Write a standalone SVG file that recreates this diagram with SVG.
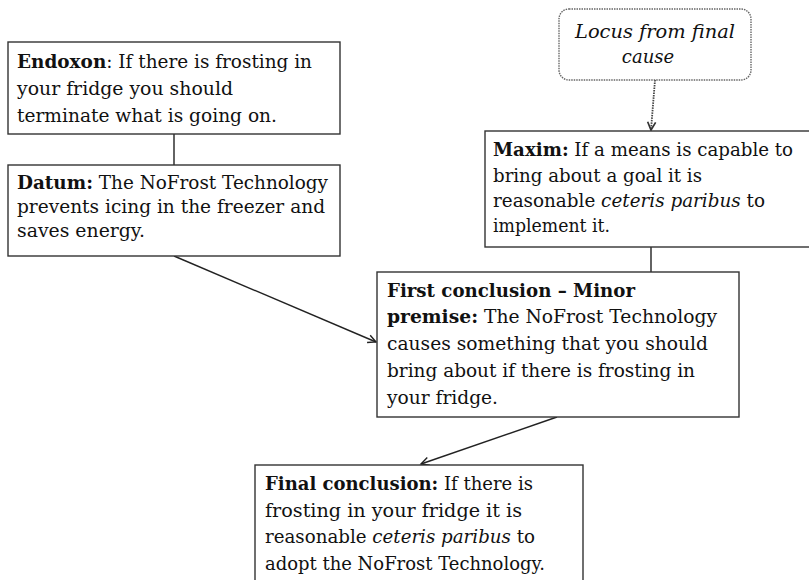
<svg xmlns="http://www.w3.org/2000/svg" width="809" height="580" viewBox="0 0 809 580">
<style>
.box{fill:#fff;stroke:#333;stroke-width:1.4}
.dot{fill:#fff;stroke:#666;stroke-width:1.4;stroke-dasharray:1.5 1}
.t{font-family:"DejaVu Serif","Liberation Serif",serif;font-size:18px;fill:#111}
.b{font-weight:bold}
.i{font-style:italic}
.ln{fill:none;stroke:#222;stroke-width:1.4}
.dl{fill:none;stroke:#444;stroke-width:1.8;stroke-dasharray:1.5 1}
</style>
<defs>
<marker id="arr" markerWidth="12" markerHeight="12" refX="9" refY="5" orient="auto" markerUnits="userSpaceOnUse">
<path d="M1,1 L9,5 L1,9" fill="none" stroke="#222" stroke-width="1.4"/>
</marker>
<marker id="arrd" markerWidth="12" markerHeight="12" refX="9" refY="5" orient="auto" markerUnits="userSpaceOnUse">
<path d="M1,1 L9,5 L1,9" fill="none" stroke="#333" stroke-width="1.7"/>
</marker>
</defs>
<g id="connectors">
<line class="ln" x1="174" y1="134" x2="174" y2="165"/>
<line class="dl" x1="655" y1="80" x2="651" y2="130" marker-end="url(#arrd)"/>
<line class="ln" x1="651" y1="247" x2="651" y2="272"/>
<line class="ln" x1="174" y1="256" x2="376" y2="342" marker-end="url(#arr)"/>
<line class="ln" x1="557" y1="417" x2="421" y2="464" marker-end="url(#arr)"/>
</g>
<g id="endoxon">
<rect class="box" x="8" y="42" width="332" height="92"/>
<text class="t" x="17" y="68" textLength="295" lengthAdjust="spacingAndGlyphs"><tspan class="b">Endoxon</tspan>: If there is frosting in</text>
<text class="t" x="17" y="95" textLength="216" lengthAdjust="spacingAndGlyphs">your fridge you should</text>
<text class="t" x="17" y="122" textLength="260" lengthAdjust="spacingAndGlyphs">terminate what is going on.</text>
</g>
<g id="datum">
<rect class="box" x="8" y="165" width="332" height="91"/>
<text class="t" x="17" y="189" textLength="311" lengthAdjust="spacingAndGlyphs"><tspan class="b">Datum:</tspan> The NoFrost Technology</text>
<text class="t" x="17" y="213" textLength="308" lengthAdjust="spacingAndGlyphs">prevents icing in the freezer and</text>
<text class="t" x="17" y="237" textLength="128" lengthAdjust="spacingAndGlyphs">saves energy.</text>
</g>
<g id="locus">
<rect class="dot" x="559" y="9" width="192" height="71" rx="10" ry="10"/>
<text class="t i" x="655" y="38" text-anchor="middle" textLength="160" lengthAdjust="spacingAndGlyphs">Locus from final</text>
<text class="t i" x="648" y="63" text-anchor="middle">cause</text>
</g>
<g id="maxim">
<rect class="box" x="485" y="131" width="330" height="116"/>
<text class="t" x="493" y="156" textLength="300" lengthAdjust="spacingAndGlyphs"><tspan class="b">Maxim:</tspan> If a means is capable to</text>
<text class="t" x="493" y="182" textLength="209" lengthAdjust="spacingAndGlyphs">bring about a goal it is</text>
<text class="t" x="493" y="207" textLength="272" lengthAdjust="spacingAndGlyphs">reasonable <tspan class="i">ceteris paribus</tspan> to</text>
<text class="t" x="493" y="232" textLength="117" lengthAdjust="spacingAndGlyphs">implement it.</text>
</g>
<g id="first-conclusion">
<rect class="box" x="377" y="272" width="362" height="145"/>
<text class="t b" x="387" y="297" textLength="248" lengthAdjust="spacingAndGlyphs">First conclusion – Minor</text>
<text class="t" x="387" y="323" textLength="330" lengthAdjust="spacingAndGlyphs"><tspan class="b">premise:</tspan> The NoFrost Technology</text>
<text class="t" x="387" y="350" textLength="321" lengthAdjust="spacingAndGlyphs">causes something that you should</text>
<text class="t" x="387" y="377" textLength="308" lengthAdjust="spacingAndGlyphs">bring about if there is frosting in</text>
<text class="t" x="387" y="404" textLength="111" lengthAdjust="spacingAndGlyphs">your fridge.</text>
</g>
<g id="final-conclusion">
<rect class="box" x="255" y="465" width="328" height="130"/>
<text class="t" x="265" y="490" textLength="268" lengthAdjust="spacingAndGlyphs"><tspan class="b">Final conclusion:</tspan> If there is</text>
<text class="t" x="265" y="517" textLength="257" lengthAdjust="spacingAndGlyphs">frosting in your fridge it is</text>
<text class="t" x="265" y="543" textLength="270" lengthAdjust="spacingAndGlyphs">reasonable <tspan class="i">ceteris paribus</tspan> to</text>
<text class="t" x="265" y="570" textLength="280" lengthAdjust="spacingAndGlyphs">adopt the NoFrost Technology.</text>
</g>
</svg>
